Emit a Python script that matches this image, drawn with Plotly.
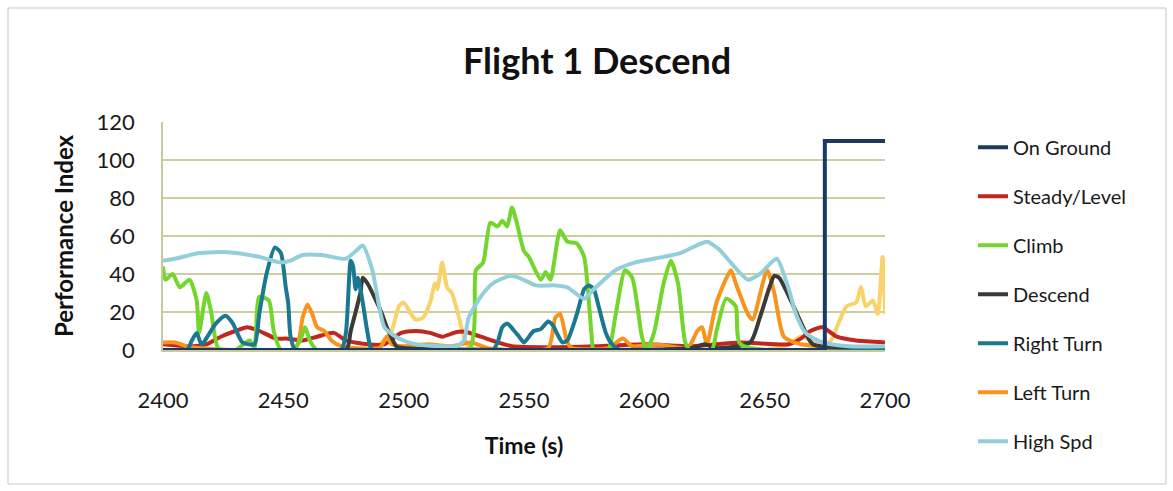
import plotly.graph_objects as go

# ---------------- data ----------------
ground_t = [2400, 2675, 2675, 2700]
ground_v = [0, 0, 110, 110]

steady_t = [2400, 2410, 2418, 2424, 2430, 2435, 2440, 2447, 2451, 2458, 2464, 2471, 2476, 2485, 2492,
            2499, 2505, 2511, 2516, 2522, 2526, 2532, 2539, 2545, 2560, 2580, 2600, 2620, 2640, 2660,
            2665, 2669, 2674, 2680, 2688, 2700]
steady_v = [3, 2, 3, 7, 10, 12, 10, 6, 6, 5, 7, 9, 5, 3, 3,
            9, 10, 9, 7, 9.5, 9.5, 7, 4, 2, 1.5, 2, 3, 2, 4, 3,
            6, 10, 12, 7, 5, 4]

climb_t = [2400, 2401, 2404, 2407, 2411, 2414, 2415, 2418, 2420, 2423, 2430, 2436, 2438, 2440, 2444,
           2446, 2449, 2454, 2457, 2459, 2461, 2464, 2527, 2530, 2533, 2536, 2539, 2541, 2543, 2545,
           2547, 2550, 2552, 2557, 2559, 2561, 2565, 2568, 2572, 2575, 2578, 2579, 2585, 2588, 2592,
           2595, 2599, 2601, 2604, 2608, 2611, 2614, 2617, 2619, 2628, 2630, 2634, 2638, 2640, 2700]
climb_v = [44, 37, 40, 33, 37, 26, 9, 30, 20, 1, 0, 5, 1, 28, 26,
           10, 0, 0, 5, 12, 5, 0, 0, 42, 46, 67, 65, 68, 65, 75,
           67, 52, 49, 37, 41, 37, 63, 57, 56, 49, 9, 0, 0, 18, 42,
           38, 7, 0, 9, 35, 47, 35, 4, 0, 0, 10, 27, 23, 3, 0]

descend_t = [2400, 2476, 2478, 2482, 2483, 2485, 2491, 2493, 2497, 2500, 2620, 2625, 2630, 2644, 2648,
             2652, 2654, 2656, 2662, 2666, 2670, 2700]
descend_v = [0, 0, 10, 30, 38, 35, 19, 12, 2, 1, 1, 3, 1, 4, 17,
             33, 39, 38, 23, 12, 3, 1]

right_t = [2400, 2410, 2412, 2414, 2416, 2422, 2426, 2429, 2433, 2438, 2440, 2443, 2446.5, 2449, 2451,
           2452, 2453, 2455, 2474, 2476, 2478, 2479, 2480, 2481, 2483, 2485, 2487, 2537, 2539, 2541,
           2543, 2546, 2548, 2550, 2554, 2557, 2560, 2562, 2564, 2566, 2568, 2572, 2575, 2577, 2579,
           2581, 2584, 2586, 2590, 2700]
right_v = [0, 0, 5, 9, 3, 14, 18, 14, 4, 3, 19, 40, 54, 51, 33,
           25, 7, 0, 0, 9, 47, 44, 32, 38, 25, 9, 0, 0, 4, 12,
           14, 10, 7, 4, 10, 11, 15, 13, 8, 4, 5, 19, 32, 34, 32,
           23, 9, 4, 0, 0]

left_t = [2400, 2405, 2410, 2415, 2455, 2458, 2460, 2462, 2464, 2467, 2470, 2474, 2480, 2490, 2493,
          2495, 2500, 2510, 2520, 2528, 2535, 2560, 2563, 2565, 2568, 2570, 2585, 2591, 2595, 2605,
          2618, 2622, 2624, 2626, 2630, 2636, 2638, 2643, 2645, 2651, 2654, 2658, 2665, 2700]
left_v = [4, 4, 2, 1, 1, 17, 24, 19, 12, 10, 5, 2, 1, 1, 7,
          3, 2, 3, 2, 4, 1, 1, 17, 19, 4, 1, 1, 6, 2, 3,
          1, 10, 12, 3, 25, 42, 35, 19, 16, 42, 30, 7, 3, 1]

highspd_t = [2400, 2405, 2415, 2427, 2440, 2449, 2453, 2458, 2466, 2476, 2480, 2483, 2487, 2492, 2498,
             2505, 2515, 2522, 2525, 2527, 2532, 2537, 2544, 2548, 2555, 2563, 2568, 2575, 2579, 2588,
             2596, 2608, 2615, 2626, 2631, 2643, 2648, 2655, 2660, 2663, 2667, 2674, 2685, 2700]
highspd_v = [47, 48, 51, 51.5, 49, 46, 47, 50, 50, 48, 52, 55, 42, 12, 6,
             3, 2, 2, 5, 17, 28, 35, 39, 38, 34, 34, 33, 27, 32, 42,
             46, 49, 51, 57, 53, 37, 40, 48, 32, 19, 9, 4, 2, 2]

extra_t = [2400, 2485, 2490, 2495, 2498, 2500, 2503, 2505, 2508, 2511, 2513, 2514, 2516, 2518, 2520,
           2523, 2525, 2527, 2530, 2650, 2660, 2665, 2670, 2677, 2680, 2684, 2688, 2690, 2692, 2695,
           2697, 2699, 2700]
extra_v = [0, 0, 3, 10, 23, 25, 19, 16, 17, 25, 35, 32, 46, 33, 30,
           17, 7, 2, 0, 0, 3, 7, 5, 4, 12, 23, 25, 33, 23, 26,
           19, 49, 19]

series = [
    ("On Ground", ground_t, ground_v, "#1b3a63", True),
    ("Steady/Level", steady_t, steady_v, "#c0271f", True),
    ("Climb", climb_t, climb_v, "#72d62c", True),
    ("Descend", descend_t, descend_v, "#3a3a36", True),
    ("Right Turn", right_t, right_v, "#1a7891", True),
    ("Left Turn", left_t, left_v, "#f7941d", True),
    ("High Spd", highspd_t, highspd_v, "#93cfda", True),
    ("", extra_t, extra_v, "#f8d36c", False),
]

x_ticks = [2400, 2450, 2500, 2550, 2600, 2650, 2700]
y_ticks = [0, 20, 40, 60, 80, 100, 120]

FONT = "Lato, 'Open Sans', sans-serif"

fig = go.Figure()
draw_order = [7, 1, 5, 3, 2, 4, 6, 0]
for i in draw_order:
    name, t, v, c, show = series[i]
    fig.add_trace(go.Scatter(
        x=t, y=v, mode="lines", name=name,
        line=dict(color=c, width=4, shape="linear" if i == 0 else "spline", smoothing=0.6),
        showlegend=show, legendgroup=f"g{i}", legendrank=i + 1,
    ))

fig.update_layout(
    width=1173, height=491,
    paper_bgcolor="white", plot_bgcolor="white",
    margin=dict(l=163, r=288, t=122, b=141),
    title=dict(text="<b>Flight 1 Descend</b>", x=0.509, xref="container", y=0.874,
               yref="container", xanchor="center", yanchor="middle",
               font=dict(family=FONT, size=36, color="#111111")),
    legend=dict(x=0.8295, y=0.74, xref="container", yref="container",
                xanchor="left", yanchor="top", tracegroupgap=20,
                traceorder="grouped", maxheight=420,
                font=dict(family=FONT, size=20, color="#1a1a1a"),
                bgcolor="rgba(0,0,0,0)"),
    font=dict(family=FONT),
    showlegend=True,
)
fig.update_xaxes(
    range=[2400, 2700], tickvals=x_ticks, showgrid=False, zeroline=False,
    showline=True, linecolor="#c9c99a", linewidth=1.5,
    ticks="", ticklabelstandoff=30,
    tickfont=dict(family=FONT, size=22, color="#1a1a1a"),
    title=dict(text="<b>Time (s)</b>", font=dict(family=FONT, size=23, color="#111111"), standoff=26),
)
fig.update_yaxes(
    range=[0, 120], tickvals=y_ticks, showgrid=True, gridcolor="#cdcda0", gridwidth=1.5,
    zeroline=False, showline=True, linecolor="#c9c99a", linewidth=1.5,
    ticks="", ticklabelstandoff=22,
    tickfont=dict(family=FONT, size=22, color="#1a1a1a"),
    title=dict(text="<b>Performance Index</b>", font=dict(family=FONT, size=24, color="#111111"), standoff=16),
)

fig.add_shape(type="rect", xref="paper", yref="paper",
              x0=(8 - 163) / 722, x1=(1166 - 163) / 722,
              y0=(350 - 484) / 228, y1=(350 - 8) / 228,
              line=dict(color="#c8c8c8", width=1), fillcolor="rgba(0,0,0,0)", layer="below")

fig.write_html("out.html")
